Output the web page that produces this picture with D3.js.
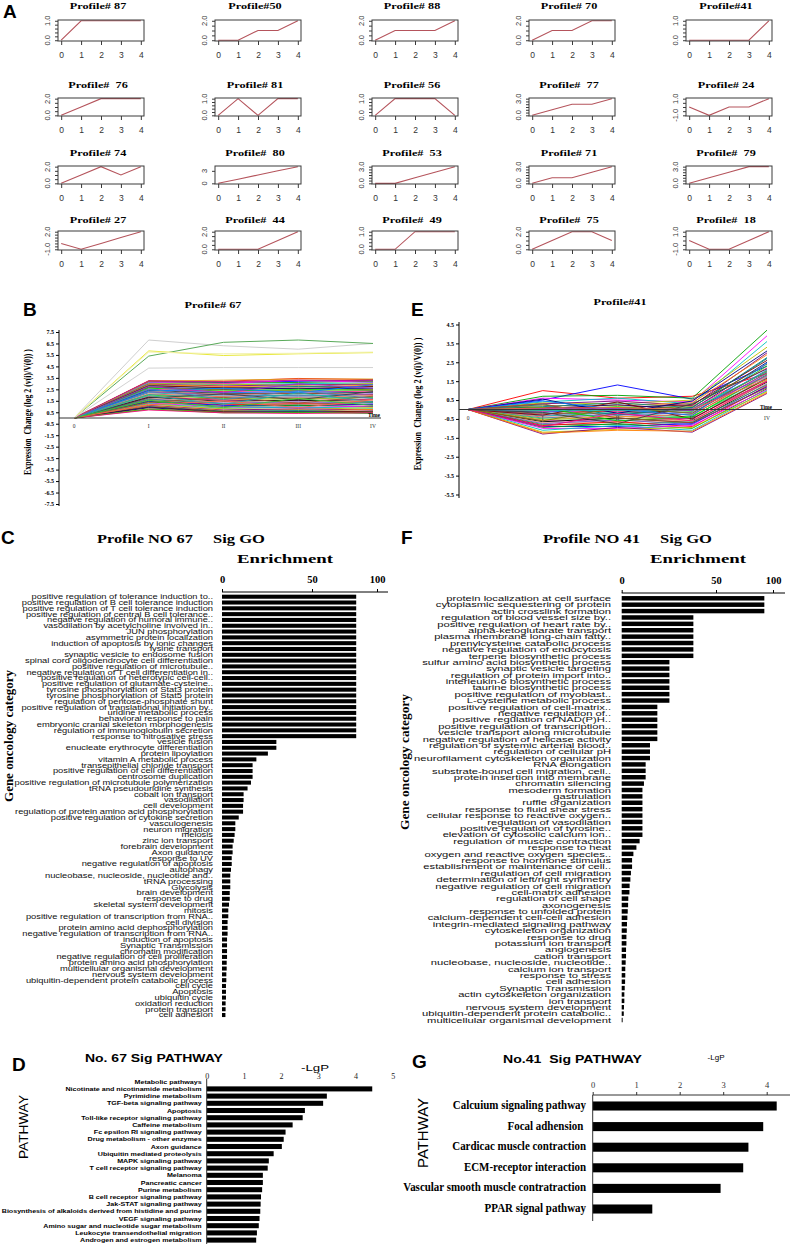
<!DOCTYPE html>
<html>
<head>
<meta charset="utf-8">
<script src="https://cdn.jsdelivr.net/npm/d3@7/dist/d3.min.js"></script>
<style>
  html,body{margin:0;padding:0;background:#fff;}
  svg{display:block;}
  text{white-space:pre;}
</style>
</head>
<body>
<svg id="fig" width="793" height="1245" xmlns="http://www.w3.org/2000/svg"></svg>
<script>
// ================= DATA =================
// Panel A: small profile plots
const profileNames = ["Profile# 87","Profile#50","Profile# 88","Profile# 70","Profile#41",
  "Profile#  76","Profile# 81","Profile# 56","Profile#  77","Profile# 24",
  "Profile# 74","Profile#  80","Profile#  53","Profile# 71","Profile#  79",
  "Profile# 27","Profile#  44","Profile#  49","Profile#  75","Profile#  18"];
const profileValues = [
  [0,1,1,1,1],[0,0,1,1,2],[0,1,1,1,2],[0,1,1,2,2],[0,0,0,0,1],
  [0,1,2,2,2],[0,1,0,1,1],[0,1,1,1,0],[0,1,2,2,3],[0,-1,0,0,1],
  [0,1,2,1,2],[0,1,2,3,4],[0,0,1,2,3],[0,1,1,2,3],[0,1,2,3,3],
  [0,-1,0,1,2],[0,0,0,1,2],[0,0,1,1,1],[0,1,2,2,1],[0,-1,-1,0,1]];
const tk01 = [0,0.2,0.4,0.6,0.8,1], tk02 = [0,0.5,1,1.5,2], tk03 = [0,0.5,1,1.5,2,2.5,3],
      tkm11 = [-1,-0.5,0,0.5,1], tkm12 = [-1,-0.5,0,0.5,1,1.5,2], tk80 = [0,3];
const profileYTicks = [tk01,tk02,tk02,tk02,tk01, tk02,tk01,tk01,tk03,tkm11,
  tk02,tk80,tk03,tk03,tk03, tkm12,tk02,tk01,tk02,tkm11];
const profileYLabelValues = [[0,1],[0,2],[0,2],[0,2],[0,1],[0,2],[0,1],[0,1],[0,3],[-1,1],
  [0,2],[0,3],[0,3],[0,3],[0,3],[-1,2],[0,2],[0,1],[0,2],[-1,1]];
const profileYLabelText = [["0.0","1.0"],["0.0","2.0"],["0.0","2.0"],["0.0","2.0"],["0.0","1.0"],
  ["0.0","2.0"],["0.0","1.0"],["0.0","1.0"],["0.0","3.0"],["-1.0","1.0"],
  ["0.0","2.0"],["0","3"],["0.0","3.0"],["0.0","3.0"],["0.0","3.0"],
  ["-1.0","2.0"],["0.0","2.0"],["0.0","1.0"],["0.0","2.0"],["-1.0","1.0"]];
const timeLabelsA = ["0","1","2","3","4"];

// Panels B / E : expression profiles (time points 0, I, II, III, IV)
const timeLabelsBE = ["0","I","II","III","IV"];
const bTickValues = [7.5,6.5,5.5,4.5,3.5,2.5,1.5,0.5,-0.5,-1.5,-2.5,-3.5,-4.5,-5.5,-6.5,-7.5];
const bTickLabels = ["7.5","6.5","5.5","4.5","3.5","2.5","1.5","0.5","-0.5","-1.5","-2.5","-3.5","-4.5","-5.5","-6.5","-7.5"];
const b67Outliers = [
  [0,6.8,6.3,6.0,6.5],[0,5.4,6.6,6.8,6.5],[0,5.85,5.45,5.6,5.7],[0,5.75,5.6,5.65,5.75],[0,4.35,4.4,4.4,4.4]];
const b67OutlierColors = ["#cfcfcf","#5aaa5a","#e8e83a","#f2f2b0","#d2d2d2"];
const b67Band = [
  [0,3.25,3.2,3.45,3.35],[0,3.2,3.1,3.2,3.3],[0,3.15,3.05,3.1,3.2],[0,3.1,3.0,3.3,3.1],
  [0,3.05,2.9,3.0,3.05],[0,3.0,2.95,2.85,3.0],[0,2.95,2.8,2.9,2.9],[0,2.9,2.75,2.7,2.85],
  [0,2.85,2.6,2.75,2.7],[0,2.8,2.65,2.55,2.75],[0,2.7,2.5,2.6,2.55],[0,2.65,2.45,2.4,2.5],
  [0,2.6,2.35,2.5,2.4],[0,2.5,2.3,2.25,2.35],[0,2.45,2.2,2.3,2.2],[0,2.4,2.15,2.1,2.25],
  [0,2.3,2.05,2.15,2.05],[0,2.25,2.0,1.95,2.1],[0,2.2,1.9,2.0,1.9],[0,2.1,1.85,1.8,1.95],
  [0,2.05,1.75,1.85,1.75],[0,2.0,1.7,1.65,1.8],[0,1.9,1.6,1.7,1.6],[0,1.85,1.55,1.5,1.65],
  [0,1.8,1.45,1.55,1.45],[0,1.7,1.4,1.35,1.5],[0,1.65,1.3,1.4,1.3],[0,1.6,1.25,1.2,1.35],
  [0,1.5,1.15,1.25,1.15],[0,1.45,1.1,1.05,1.2],[0,1.4,1.0,1.1,1.0],[0,1.3,0.95,0.9,1.05],
  [0,1.25,0.85,0.95,0.85],[0,1.2,0.8,0.75,0.9],[0,1.1,0.7,0.8,0.7],[0,1.05,0.65,0.6,0.75],
  [0,1.0,0.6,0.65,0.55],[0,0.95,0.55,0.5,0.6],[0,0.9,0.5,0.55,0.45],[0,0.8,0.5,0.45,0.5],
  [0,0.75,0.45,0.5,0.4],[0,0.7,0.45,0.4,0.45],[0,2.35,2.6,2.2,2.9],[0,1.75,2.1,1.6,2.3],
  [0,1.35,1.8,1.3,1.9],[0,2.75,2.2,3.0,2.6],[0,1.95,1.2,2.2,1.4],[0,1.15,1.5,0.9,1.6],
  [0,2.55,1.6,2.4,1.7],[0,1.55,0.9,1.7,1.1],[0,3.2,3.3,3.4,3.4],[0,3.22,3.15,3.3,3.25]];
const eTickValues = [4.5,3.5,2.5,1.5,0.5,-0.5,-1.5,-2.5,-3.5,-4.5];
const eTickLabels = ["4.5","3.5","2.5","1.5","0.5","-0.5","-1.5","-2.5","-3.5","-5.5"];
const e41Lines = [
  [0,1.0,0.6,0.7,1.9],[0,0.5,1.3,0.55,2.3],[0,0.7,0.75,0.6,4.2],[0,0.6,0.5,0.4,3.9],
  [0,0.4,0.6,0.3,3.6],[0,0.35,0.3,0.5,3.3],[0,0.3,0.45,0.2,3.0],[0,0.2,0.2,0.35,2.9],
  [0,0.15,0.35,0.1,2.7],[0,0.1,0.1,0.25,2.6],[0,0.05,0.25,0.0,2.5],[0,0.0,0.0,0.15,2.4],
  [0,-0.05,0.15,-0.1,2.3],[0,-0.1,-0.1,0.05,2.2],[0,-0.15,0.05,-0.2,2.1],[0,-0.2,-0.2,-0.05,2.0],
  [0,-0.25,-0.05,-0.3,1.95],[0,-0.3,-0.3,-0.15,1.9],[0,-0.35,-0.15,-0.4,1.8],[0,-0.4,-0.4,-0.25,1.75],
  [0,-0.45,-0.25,-0.5,1.7],[0,-0.5,-0.5,-0.35,1.6],[0,-0.55,-0.35,-0.6,1.55],[0,-0.6,-0.6,-0.45,1.5],
  [0,-0.65,-0.45,-0.7,1.45],[0,-0.7,-0.7,-0.55,1.4],[0,-0.75,-0.55,-0.8,1.35],[0,-0.8,-0.8,-0.65,1.3],
  [0,-0.85,-0.65,-0.9,1.25],[0,-0.9,-0.9,-0.75,1.2],[0,-0.95,-0.75,-1.0,1.1],[0,-1.0,-1.0,-0.85,1.05],
  [0,-1.1,-0.85,-1.1,1.0],[0,-1.2,-1.05,-0.95,0.95],[0,-1.3,-0.95,-1.2,0.85],[0,-1.25,-1.1,-1.15,0.9],
  [0,0.25,-0.3,0.1,2.75],[0,-0.3,0.4,-0.5,1.65],[0,0.55,-0.2,0.45,3.1],[0,-0.6,0.1,-0.2,2.05],
  [0,0.1,-0.6,-0.4,1.85],[0,-0.9,-0.2,-0.6,1.5],[0,0.45,0.0,-0.3,2.45],[0,-0.15,-0.75,0.3,2.15],
  [0,0.3,-0.45,-0.7,1.15],[0,0.05,0.05,-0.05,1.8],[0,-0.05,-0.05,0.02,2.0],[0,0.08,0.1,0.0,1.6]];
const lineColors = ["#ff0000","#0000ff","#00a000","#ff00ff","#00c0c0","#c0c000","#800080","#ff8000",
  "#008080","#800000","#000080","#808000","#00dd00","#ff0080","#0080ff","#404040","#a0522d","#9932cc",
  "#20b2aa","#ff6347","#4682b4","#32cd32","#daa520","#c71585","#000000","#e9967a","#6a5acd","#2e8b57"];

// Panel C: Profile 67 GO enrichment
const goCLabels = ["positive regulation of tolerance induction to..","positive regulation of B cell tolerance induction",
  "positive regulation of T cell tolerance induction","positive regulation of central B cell tolerance..",
  "negative regulation of humoral immune..","vasodilation by acetylcholine involved in..","JUN phosphorylation",
  "asymmetric protein localization","induction of apoptosis by ionic changes","lysine transport",
  "synaptic vesicle to endosome fusion","spinal cord oligodendrocyte cell differentiation",
  "positive regulation of microtubule..","negative regulation of T cell differentiation in..",
  "positive regulation of heterotypic cell-cell..","positive regulation of glutamate-cysteine..",
  "tyrosine phosphorylation of Stat3 protein","tyrosine phosphorylation of Stat5 protein",
  "regulation of pentose-phosphate shunt","positive regulation of translational initiation by..",
  "uridine metabolic process","behavioral response to pain","embryonic cranial skeleton morphogenesis",
  "regulation of immunoglobulin secretion","response to nitrosative stress","vesicle fusion",
  "enucleate erythrocyte differentiation","protein lipoylation","vitamin A metabolic process",
  "transepithelial chloride transport","positive regulation of cell differentiation","centrosome duplication",
  "positive regulation of microtubule polymerization","tRNA pseudouridine synthesis","cobalt ion transport",
  "vasodilation","cell development","regulation of protein amino acid phosphorylation",
  "positive regulation of cytokine secretion","vasculogenesis","neuron migration","meiosis","zinc ion transport",
  "forebrain development","Axon guidance","response to UV","negative regulation of apoptosis","autophagy",
  "nucleobase, nucleoside, nucleotide and..","tRNA processing","Glycolysis","brain development",
  "response to drug","skeletal system development","mitosis","positive regulation of transcription from RNA..",
  "cell division","protein amino acid dephosphorylation","negative regulation of transcription from RNA..",
  "induction of apoptosis","Synaptic Transmission","chromatin modification",
  "negative regulation of cell proliferation","protein amino acid phosphorylation",
  "multicellular organismal development","nervous system development",
  "ubiquitin-dependent protein catabolic process","cell cycle","Apoptosis","ubiquitin cycle",
  "oxidation reduction","protein transport","cell adhesion"];
const goCValues = [84,84,84,84,84,84,84,84,84,84,84,84,84,84,84,84,84,84,84,84,84,84,84,84,84,
  30.2,30.2,25.5,19.1,17.0,17.0,17.0,16.1,14.2,12.0,12.0,11.7,11.7,9.3,7.4,7.4,7.0,6.5,5.9,5.9,
  5.4,5.4,5.0,4.6,4.6,4.6,4.3,4.3,3.9,3.5,3.5,3.1,3.1,3.1,2.8,2.8,2.8,2.8,2.6,2.6,2.4,2.4,
  2.2,2.2,2.2,2.0,2.0,1.9];
const enrichTicks = [0,50,100];

// Panel F: Profile 41 GO enrichment
const goFLabels = ["protein localization at cell surface","cytoplasmic sequestering of protein","actin crosslink formation",
  "regulation of blood vessel size by..","positive regulation of heart rate by..","alpha-ketoglutarate transport",
  "plasma membrane long-chain fatty..","prenylcysteine catabolic process","negative regulation of endocytosis",
  "terpene biosynthetic process","sulfur amino acid biosynthetic process","synaptic vesicle targeting",
  "regulation of protein import into..","interleukin-6 biosynthetic process","taurine biosynthetic process",
  "positive regulation of myoblast..","L-cysteine metabolic process","positive regulation of cell-matrix..",
  "negative regulation of..","positive regulation of NAD(P)H..","positive regulation of transcription..",
  "vesicle transport along microtubule","negative regulation of helicase activity",
  "regulation of systemic arterial blood..","regulation of cellular pH","neurofilament cytoskeleton organization",
  "RNA elongation","substrate-bound cell migration, cell..","protein insertion into membrane","chromatin silencing",
  "mesoderm formation","gastrulation","ruffle organization","response to fluid shear stress",
  "cellular response to reactive oxygen..","regulation of vasodilation","positive regulation of tyrosine..",
  "elevation of cytosolic calcium ion..","regulation of muscle contraction","response to heat",
  "oxygen and reactive oxygen species..","response to hormone stimulus","establishment or maintenance of cell..",
  "regulation of cell migration","determination of left/right symmetry","negative regulation of cell migration",
  "cell-matrix adhesion","regulation of cell shape","axonogenesis","response to unfolded protein",
  "calcium-dependent cell-cell adhesion","integrin-mediated signaling pathway","cytoskeleton organization",
  "response to drug","potassium ion transport","angiogenesis","cation transport",
  "nucleobase, nucleoside, nucleotide..","calcium ion transport","response to stress","cell adhesion",
  "Synaptic Transmission","actin cytoskeleton organization","ion transport","nervous system development",
  "ubiquitin-dependent protein catabolic..","multicellular organismal development"];
const goFValues = [92.4,92.4,92.4,38,38,38,38,38,38,38,25.3,25.3,25.3,25.3,25.3,25.3,25.3,
  18.9,18.9,18.9,18.9,18.9,18.9,15.0,15.0,15.0,12.7,12.7,12.7,11.8,11.0,11.0,11.0,11.0,11.0,11.0,11.0,11.0,
  9.5,7.8,6.2,5.5,5.5,4.9,4.6,4.2,4.1,3.5,3.4,3.2,3.0,2.8,2.7,2.5,2.5,2.3,2.3,2.1,1.9,1.9,1.8,1.6,
  1.4,1.4,1.2,1.1,0.5];

// Panel D: Profile 67 pathways
const pathDLabels = ["Metabolic pathways","Nicotinate and nicotinamide metabolism","Pyrimidine metabolism",
  "TGF-beta signaling pathway","Apoptosis","Toll-like receptor signaling pathway","Caffeine metabolism",
  "Fc epsilon RI signaling pathway","Drug metabolism - other enzymes","Axon guidance",
  "Ubiquitin mediated proteolysis","MAPK signaling pathway","T cell receptor signaling pathway","Melanoma",
  "Pancreatic cancer","Purine metabolism","B cell receptor signaling pathway","Jak-STAT signaling pathway",
  "Biosynthesis of alkaloids derived from histidine and purine","VEGF signaling pathway",
  "Amino sugar and nucleotide sugar metabolism","Leukocyte transendothelial migration",
  "Androgen and estrogen metabolism"];
const pathDValues = [0,4.45,3.23,3.13,2.64,2.58,2.31,2.12,2.07,2.02,1.80,1.67,1.64,1.51,1.51,1.49,1.46,
  1.45,1.44,1.42,1.40,1.35,1.33];
const lgpTicksD = [0,1,2,3,4,5];

// Panel G: Profile 41 pathways
const pathGLabels = ["Calcuium signaling pathway","Focal adhension ","Cardicac muscle contraction",
  "ECM-receptor interaction","Vascular smooth muscle contratraction","PPAR signal pathway"];
const pathGValues = [4.23,3.92,3.58,3.46,2.94,1.37];
const lgpTicksG = [0,1,2,3,4];

// ================= DRAWING =================
const SERIF = "'Liberation Serif','Times New Roman',serif";
const SANS = "'Liberation Sans',Arial,Helvetica,sans-serif";
const svg = d3.select("#fig");
svg.append("rect").attr("width",793).attr("height",1245).attr("fill","#fff");

// helper: text whose width is stretched to a target width
function label(parent, x, y, str, o) {
  const g = parent.append("g").attr("transform", `translate(${x},${y})` + (o.rotate ? ` rotate(${o.rotate})` : ""));
  const t = g.append("text").attr("text-anchor", o.anchor || "start")
    .attr("font-family", o.family || SANS).attr("font-size", o.size)
    .attr("font-weight", o.weight || "normal").attr("fill", o.fill || "#000").text(str);
  if (o.width) {
    const w = t.node().getComputedTextLength();
    if (w > 0) t.attr("transform", `scale(${o.width / w},1)`);
  }
  return t;
}
function measure(str, size, family, weight) {
  const t = svg.append("text").attr("font-size", size).attr("font-family", family)
    .attr("font-weight", weight).text(str);
  const w = t.node().getComputedTextLength(); t.remove(); return w;
}

// panel letters
[["A",3,18],["B",23,316],["E",411,316],["C",1,544],["F",401,544],["D",12,1071],["G",412,1068]]
  .forEach(([s,x,y]) => label(svg, x, y, s, {size:19, weight:"bold", family:SANS}));

// ----- Panel A -----
const aColLeft = [58,215,372,529,686];
const aRowTop = [20,98,166,231];
const aRowH = [21,18,18,19];
const aTitleBase = [9,88,156,223];
const aBoxW = 86;
const aLineColor = "#b5545c";
profileNames.forEach((name, i) => {
  const r = Math.floor(i / 5), c = i % 5;
  const vals = profileValues[i];
  const left = aColLeft[c], top = aRowTop[r], h = aRowH[r];
  const lo = d3.min(vals), hi = d3.max(vals), pad = (hi - lo) * 0.04;
  const x = d3.scaleLinear().domain([-0.16, 4.16]).range([left, left + aBoxW]);
  const y = d3.scaleLinear().domain([lo - pad, hi + pad]).range([top + h, top]);
  const g = svg.append("g");
  g.append("path").datum(vals)
    .attr("d", d3.line().x((d, j) => x(j)).y(d => y(d)))
    .attr("fill", "none").attr("stroke", aLineColor).attr("stroke-width", 1.1);
  g.append("rect").attr("x", left).attr("y", top).attr("width", aBoxW).attr("height", h)
    .attr("fill", "none").attr("stroke", "#3a3a3a").attr("stroke-width", 1);
  const xa = g.append("g").attr("transform", `translate(0,${top + h})`)
    .call(d3.axisBottom(x).tickValues([0,1,2,3,4]).tickFormat((d, j) => timeLabelsA[j]).tickSize(4).tickPadding(7));
  xa.select(".domain").remove();
  xa.selectAll("line").attr("stroke", "#3a3a3a");
  xa.selectAll("text").attr("font-family", SANS).attr("font-size", 8.5).attr("fill", "#333");
  const ya = g.append("g").attr("transform", `translate(${left},0)`)
    .call(d3.axisLeft(y).tickValues(profileYTicks[i]).tickFormat("").tickSize(3));
  ya.select(".domain").remove();
  ya.selectAll("line").attr("stroke", "#3a3a3a");
  profileYLabelValues[i].forEach((v, k) => {
    label(g, left - 8, y(v), profileYLabelText[i][k], {size:7.5, anchor:"middle", rotate:-90, fill:"#333"});
  });
  label(g, left + aBoxW / 2 - 3, aTitleBase[r], name, {size:9, weight:"bold", family:SERIF, anchor:"middle",
    width: measure(name, 9, SERIF, "bold") * 1.36});
});

// ----- Panels B and E (expression profiles) -----
function profilePanel(cfg) {
  const g = svg.append("g");
  const x = d3.scaleLinear().domain([0, 4]).range(cfg.xr);
  const y = d3.scaleLinear().domain(cfg.yd).range(cfg.yr);
  const line = d3.line().x((d, j) => x(j)).y(d => y(d));
  cfg.lines.forEach((ln, k) => {
    g.append("path").datum(ln).attr("d", line).attr("fill", "none")
      .attr("stroke", cfg.colors[k % cfg.colors.length]).attr("stroke-width", 1).attr("stroke-opacity", 0.9);
  });
  if (cfg.outliers) cfg.outliers.forEach((ln, k) => {
    g.append("path").datum(ln).attr("d", line).attr("fill", "none")
      .attr("stroke", cfg.outlierColors[k]).attr("stroke-width", 1);
  });
  // y axis
  const ya = g.append("g").attr("transform", `translate(${cfg.yAxisX},0)`)
    .call(d3.axisLeft(y).tickValues(cfg.tickValues).tickFormat((d, j) => cfg.tickLabels[j]).tickSize(3).tickPadding(2));
  ya.select(".domain").attr("d", `M0,${cfg.yAxisTop}V${cfg.yAxisBottom}`).attr("stroke", "#000");
  ya.selectAll("text").attr("font-family", SERIF).attr("font-weight", "bold").attr("font-size", 6);
  // x axis at zero
  g.append("line").attr("x1", cfg.yAxisX).attr("x2", cfg.xAxisEnd).attr("y1", y(0)).attr("y2", y(0))
    .attr("stroke", "#333").attr("stroke-width", 1);
  timeLabelsBE.forEach((s, j) => {
    label(g, x(j), y(0) + cfg.xLabelDy, s, {size:5.5, family:SERIF, anchor:"middle", fill:"#333"});
  });
  label(g, cfg.timeX, y(0) - 1, "Time", {size:5.5, family:SERIF, weight:"bold", anchor:"middle"});
  label(g, cfg.titleX, cfg.titleY, cfg.title, {size:8.5, family:SERIF, weight:"bold", anchor:"middle", width:cfg.titleW});
  label(g, cfg.ytX, cfg.ytY, "Expression  Change (log 2 (v(i)/V(0)) )",
    {size:9.5, family:SERIF, weight:"bold", anchor:"middle", rotate:-90, width:cfg.ytW});
}
profilePanel({lines:b67Band, colors:lineColors, outliers:b67Outliers, outlierColors:b67OutlierColors,
  xr:[74,373], yd:[-7.5,7.5], yr:[504,332], yAxisX:59, yAxisTop:330, yAxisBottom:506, xAxisEnd:381,
  tickValues:bTickValues, tickLabels:bTickLabels, xLabelDy:10, timeX:374,
  title:"Profile# 67", titleX:213, titleY:308, titleW:57, ytX:31, ytY:412, ytW:126});
profilePanel({lines:e41Lines, colors:lineColors,
  xr:[468,767], yd:[-4.5,4.5], yr:[494.5,324.5], yAxisX:459, yAxisTop:322, yAxisBottom:498, xAxisEnd:782,
  tickValues:eTickValues, tickLabels:eTickLabels, xLabelDy:10, timeX:766,
  title:"Profile#41", titleX:620, titleY:305, titleW:53, ytX:421, ytY:404, ytW:133});

// ----- Panels C and F (GO enrichment) -----
function goPanel(cfg) {
  const g = svg.append("g");
  const x = d3.scaleLinear().domain(enrichTicks).range(cfg.xr);
  const y = d3.scaleBand().domain(d3.range(cfg.labels.length)).range(cfg.yr).paddingInner(0.3).paddingOuter(0.15);
  g.selectAll("rect.bar").data(cfg.values).join("rect").attr("class", "bar")
    .attr("x", x(0)).attr("y", (d, i) => y(i)).attr("width", d => x(d) - x(0)).attr("height", y.bandwidth())
    .attr("fill", "#000");
  const ax = g.append("g").attr("transform", `translate(0,${cfg.axisY})`)
    .call(d3.axisTop(x).tickValues(enrichTicks).tickFormat(d3.format("d")).tickSize(3).tickPadding(6));
  ax.select(".domain").attr("d", `M${cfg.xr[0]},0H${cfg.axisEnd}`).attr("stroke", "#000");
  ax.selectAll("text").attr("font-family", SERIF).attr("font-weight", "bold").attr("font-size", 10.5);
  // labels
  const sx = cfg.refWidth / measure(cfg.labels[cfg.refIndex], cfg.fontSize, SANS, "normal");
  const lg = g.append("g").attr("transform", `translate(${cfg.labelX},0) scale(${sx},1)`);
  lg.selectAll("text").data(cfg.labels).join("text")
    .attr("x", 0).attr("y", (d, i) => y(i) + y.bandwidth() / 2).attr("dy", "0.36em")
    .attr("text-anchor", "end").attr("font-family", SANS).attr("font-size", cfg.fontSize).attr("fill", "#111")
    .text(d => d);
  label(g, cfg.t1X, 543, cfg.title1, {size:12.5, family:SERIF, weight:"bold", width:cfg.t1W});
  label(g, cfg.t2X, 543, "Sig GO", {size:12.5, family:SERIF, weight:"bold", width:52});
  label(g, cfg.enX, 563, "Enrichment", {size:12.5, family:SERIF, weight:"bold", width:96});
  label(g, cfg.gtX, cfg.gtY, "Gene oncology category", {size:13, family:SERIF, weight:"bold", anchor:"middle", rotate:-90, width:cfg.gtW});
}
goPanel({labels:goCLabels, values:goCValues, xr:[222,312,377], axisY:592, axisEnd:388,
  yr:[593.8, 593.8 + 73 * 5.81], labelX:213, fontSize:6.8, refIndex:8, refWidth:162,
  title1:"Profile NO 67", t1X:97, t1W:96, t2X:213, enX:237, gtX:13, gtY:736, gtW:132});
goPanel({labels:goFLabels, values:goFValues, xr:[621.7,716,773], axisY:593, axisEnd:785,
  yr:[595.1, 595.1 + 67 * 6.39], labelX:611, fontSize:7.5, refIndex:10, refWidth:189,
  title1:"Profile NO 41", t1X:543, t1W:97, t2X:660, enX:650, gtX:409, gtY:762, gtW:136});

// ----- Panel D -----
(function () {
  const g = svg.append("g");
  const x = d3.scaleLinear().domain([0, 5]).range([206.7, 392.7]);
  const y = d3.scaleBand().domain(d3.range(pathDLabels.length)).range([1078.1, 1078.1 + 23 * 7.2]).paddingInner(0.3).paddingOuter(0.15);
  g.selectAll("rect").data(pathDValues).join("rect")
    .attr("x", x(0)).attr("y", (d, i) => y(i)).attr("width", d => x(d) - x(0)).attr("height", y.bandwidth()).attr("fill", "#000");
  const ax = g.append("g").attr("transform", "translate(0,1080)")
    .call(d3.axisTop(x).tickValues(lgpTicksD).tickFormat(d3.format("d")).tickSize(0).tickPadding(1));
  ax.select(".domain").remove();
  ax.selectAll("text").attr("font-family", SERIF).attr("font-size", 8).attr("fill", "#222");
  g.append("line").attr("x1", x(0)).attr("x2", x(0)).attr("y1", 1079).attr("y2", 1244).attr("stroke", "#333");
  const sx = 200 / measure(pathDLabels[18], 6, SANS, "bold");
  const lg = g.append("g").attr("transform", `translate(201.7,0) scale(${sx},1)`);
  lg.selectAll("text").data(pathDLabels).join("text")
    .attr("x", 0).attr("y", (d, i) => y(i) + y.bandwidth() / 2).attr("dy", "0.36em")
    .attr("text-anchor", "end").attr("font-family", SANS).attr("font-weight", "bold").attr("font-size", 6).text(d => d);
  label(g, 85, 1062, "No. 67 Sig PATHWAY", {size:10, weight:"bold", width:138});
  label(g, 315, 1071, "-LgP", {size:9, anchor:"middle", width:28});
  label(g, 28, 1127, "PATHWAY", {size:13, anchor:"middle", rotate:-90, width:64});
})();

// ----- Panel G -----
(function () {
  const g = svg.append("g");
  const x = d3.scaleLinear().domain([0, 4]).range([592.7, 766.7]);
  const y = d3.scaleBand().domain(d3.range(pathGLabels.length)).range([1095.7, 1095.7 + 6 * 20.6]).paddingInner(0.56).paddingOuter(0.28);
  g.selectAll("rect").data(pathGValues).join("rect")
    .attr("x", x(0)).attr("y", (d, i) => y(i)).attr("width", d => x(d) - x(0)).attr("height", y.bandwidth()).attr("fill", "#000");
  const ax = g.append("g").attr("transform", "translate(0,1095)")
    .call(d3.axisTop(x).tickValues(lgpTicksG).tickFormat(d3.format("d")).tickSize(3).tickPadding(4));
  ax.select(".domain").attr("d", `M${x(0)},0H790`).attr("stroke", "#333");
  ax.selectAll("line").attr("stroke", "#333");
  ax.selectAll("text").attr("font-family", SERIF).attr("font-size", 8.5).attr("fill", "#333");
  g.append("line").attr("x1", x(0)).attr("x2", x(0)).attr("y1", 1095).attr("y2", 1221).attr("stroke", "#333");
  const sx = 183 / measure(pathGLabels[4], 11.5, SERIF, "bold");
  const lg = g.append("g").attr("transform", `translate(586,0) scale(${sx},1)`);
  lg.selectAll("text").data(pathGLabels).join("text")
    .attr("x", 0).attr("y", (d, i) => y(i) + y.bandwidth() / 2 - 1).attr("dy", "0.35em")
    .attr("text-anchor", "end").attr("font-family", SERIF).attr("font-weight", "bold").attr("font-size", 11.5).text(d => d);
  label(g, 503, 1063, "No.41  Sig PATHWAY", {size:10, weight:"bold", width:139});
  label(g, 716, 1060, "-LgP", {size:6.5, anchor:"middle", width:17});
  label(g, 428, 1133, "PATHWAY", {size:14, anchor:"middle", rotate:-90, width:70});
})();
</script>
</body>
</html>
